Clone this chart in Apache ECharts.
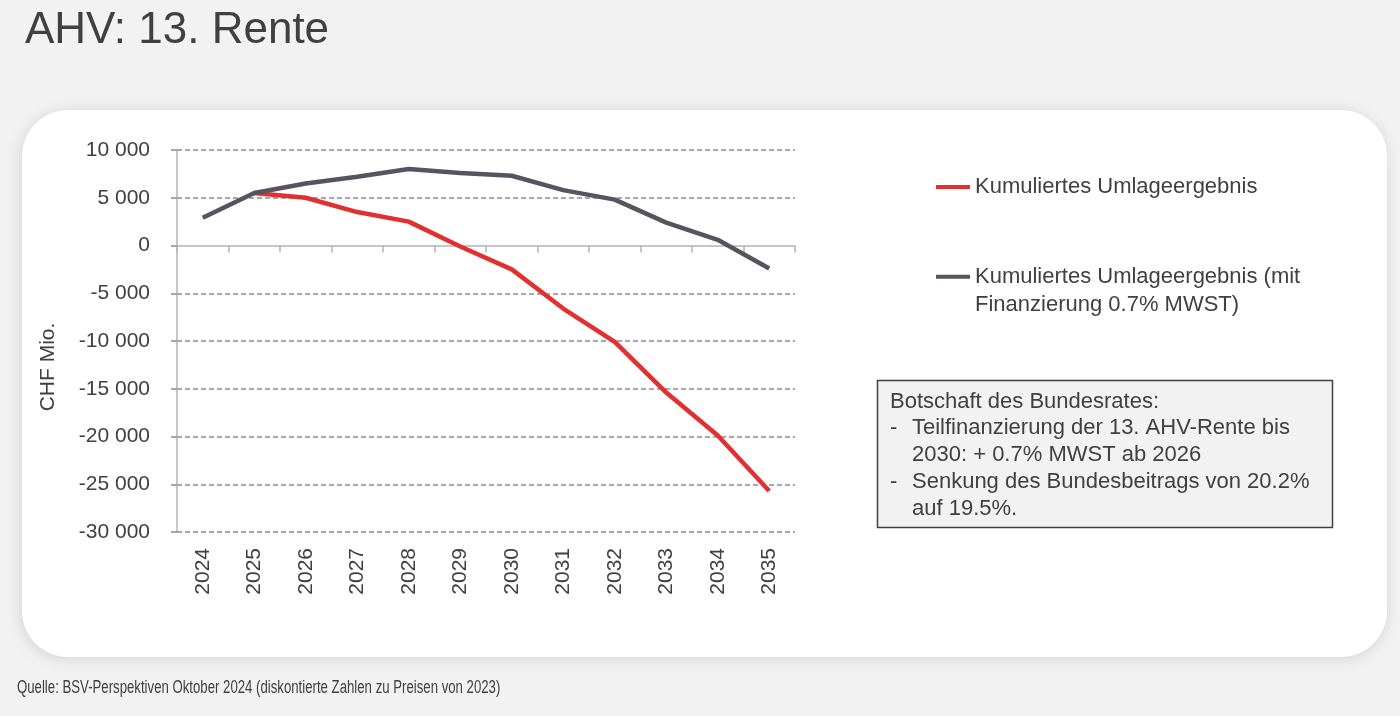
<!DOCTYPE html>
<html>
<head>
<meta charset="utf-8">
<script src="https://cdn.jsdelivr.net/npm/echarts@6/dist/echarts.min.js"></script>
<style>
html,body{margin:0;padding:0;background:#f2f2f2;}
#chart{width:1400px;height:716px;}
</style>
</head>
<body>
<div id="chart"></div>
<script>
// ---- data ----
const years = ['2024','2025','2026','2027','2028','2029','2030','2031','2032','2033','2034','2035'];
const seriesNames = ['Kumuliertes Umlageergebnis', 'Kumuliertes Umlageergebnis (mit\nFinanzierung 0.7% MWST)'];
const umlageergebnis = [null, 5500, 5000, 3500, 2500, -100, -2500, -6600, -10100, -15400, -19900, -25700];
const umlageergebnisMwst = [2900, 5500, 6500, 7200, 8000, 7600, 7300, 5800, 4800, 2400, 600, -2400];
const yMin = -30000, yMax = 10000, yStep = 5000;
const titleText = 'AHV: 13. Rente';
const yAxisName = 'CHF Mio.';
const sourceText = 'Quelle: BSV-Perspektiven Oktober 2024 (diskontierte Zahlen zu Preisen von 2023)';
const noteLines = [
  {bullet: '', text: 'Botschaft des Bundesrates:'},
  {bullet: '-', text: 'Teilfinanzierung der 13. AHV-Rente bis'},
  {bullet: '', text: '2030: + 0.7% MWST ab 2026'},
  {bullet: '-', text: 'Senkung des Bundesbeitrags von 20.2%'},
  {bullet: '', text: 'auf 19.5%.'}
];

const FONT = '"Liberation Sans", Arial, sans-serif';
const TXT = '#404040';
const RED = '#E1302F';
const GRAY = '#58535E';

function fmt(v) {
  const s = Math.abs(v).toString().replace(/\B(?=(\d{3})+(?!\d))/g, ' ');
  return (v < 0 ? '-' : '') + s;
}

// split line colors: hide the one at zero (axis line drawn there)
const splitColors = [];
for (let v = yMin; v <= yMax; v += yStep) splitColors.push(v === 0 ? 'rgba(0,0,0,0)' : '#8c8c8c');

const noteGraphics = [];
noteLines.forEach((l, i) => {
  const y = 401.7 + i * 26.7;
  if (l.bullet) noteGraphics.push({type: 'text', x: 890, y: y, style: {text: l.bullet, font: '22px ' + FONT, fill: TXT, textVerticalAlign: 'middle'}, z: 10});
  noteGraphics.push({type: 'text', x: (i === 0 ? 890 : 912), y: y, style: {text: l.text, font: '22px ' + FONT, fill: TXT, textVerticalAlign: 'middle'}, z: 10});
});

const chart = echarts.init(document.getElementById('chart'), null, {renderer: 'canvas'});
chart.setOption({
  backgroundColor: '#f2f2f2',
  animation: false,
  textStyle: {fontFamily: FONT},
  graphic: [
    {type: 'rect', z: -100, shape: {x: 22, y: 110, width: 1365, height: 547, r: 46},
     style: {fill: '#ffffff', shadowBlur: 16, shadowColor: 'rgba(0,0,0,0.13)', shadowOffsetY: 2, shadowOffsetX: -1}},
    {type: 'text', x: 25, y: 31, style: {text: titleText, font: '44px ' + FONT, fill: TXT, textVerticalAlign: 'middle'}},
    {type: 'text', x: 17, y: 688, scaleX: 0.733, style: {text: sourceText, font: '18px ' + FONT, fill: TXT, textVerticalAlign: 'middle'}},
    {type: 'rect', z: 5, shape: {x: 877.5, y: 380.5, width: 455, height: 147},
     style: {fill: '#f2f2f2', stroke: '#404040', lineWidth: 1.5}}
  ].concat(noteGraphics),
  legend: [
    {data: [seriesNames[0]], left: 936, top: 173, padding: 0, orient: 'vertical', icon: 'rect', itemWidth: 34, itemHeight: 4,
     selectedMode: false, textStyle: {fontSize: 22, color: TXT, lineHeight: 28, fontFamily: FONT}},
    {data: [seriesNames[1]], left: 936, top: 234.7, padding: 0, orient: 'vertical', icon: 'rect', itemWidth: 34, itemHeight: 4,
     selectedMode: false, formatter: function (n) { return '\n' + n; },
     textStyle: {fontSize: 22, color: TXT, lineHeight: 28, fontFamily: FONT}}
  ],
  grid: {left: 177, right: 605, top: 150, bottom: 184, containLabel: false},
  xAxis: [
    {type: 'category', data: years, position: 'bottom', boundaryGap: true,
     axisLine: {show: false, onZero: false}, axisTick: {show: false},
     axisLabel: {rotate: 90, margin: 16, fontSize: 21, color: TXT, fontFamily: FONT},
     splitLine: {show: false}},
    {type: 'category', data: years, position: 'bottom', boundaryGap: true,
     axisLine: {show: true, onZero: true, onZeroAxisIndex: 0, lineStyle: {color: '#b4b4b4', width: 1.5}},
     axisTick: {show: true, length: 7, interval: 0, lineStyle: {color: '#b4b4b4', width: 1.5}},
     axisLabel: {show: false}, splitLine: {show: false}}
  ],
  yAxis: {
    type: 'value', min: yMin, max: yMax, interval: yStep,
    name: yAxisName, nameLocation: 'middle', nameRotate: 90, nameGap: 118,
    nameTextStyle: {fontSize: 21, color: TXT, fontFamily: FONT, padding: [0, 52, 0, 0]},
    axisLine: {show: true, lineStyle: {color: '#b4b4b4', width: 1.5}},
    axisTick: {show: true, length: 6, lineStyle: {color: '#8c8c8c', width: 1.5}},
    axisLabel: {margin: 27, fontSize: 21, color: TXT, fontFamily: FONT, formatter: fmt},
    splitLine: {show: true, lineStyle: {color: splitColors, width: 1.5, type: [5, 3]}}
  },
  series: [
    {name: seriesNames[0], type: 'line', data: umlageergebnis, xAxisIndex: 0, symbol: 'none',
     lineStyle: {color: RED, width: 4.5}, itemStyle: {color: RED}, z: 3},
    {name: seriesNames[1], type: 'line', data: umlageergebnisMwst, xAxisIndex: 0, symbol: 'none',
     lineStyle: {color: GRAY, width: 4.5}, itemStyle: {color: GRAY}, z: 4}
  ]
});
</script>
</body>
</html>
